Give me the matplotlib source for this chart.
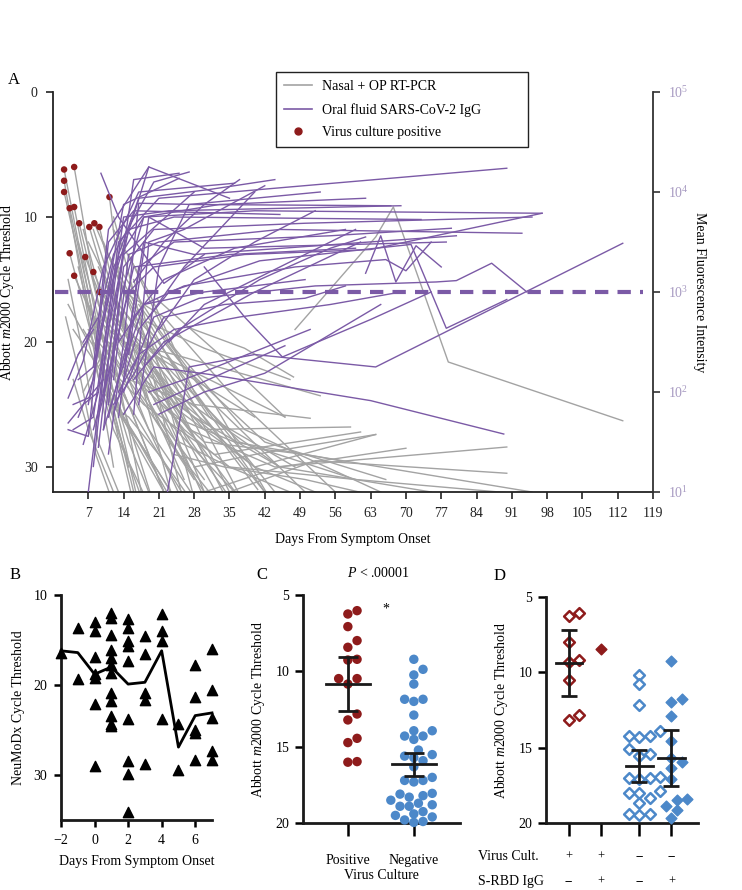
import numpy as np
import matplotlib
matplotlib.use("Agg")
import matplotlib.pyplot as plt
import matplotlib.transforms as mtransforms
from matplotlib.lines import Line2D
from matplotlib.ticker import FixedLocator, NullLocator

plt.rcParams['font.family'] = ['Liberation Serif', 'DejaVu Serif']
plt.rcParams['mathtext.fontset'] = 'custom'
plt.rcParams['mathtext.rm'] = 'Liberation Serif'
plt.rcParams['mathtext.it'] = 'Liberation Serif:italic'
plt.rcParams['font.size'] = 10

# ---------------- Panel A data ----------------
# Nasal + OP RT-PCR (Ct), each participant a series of (day, Ct)
gray_days = [
    [2.2, 6, 10, 16], [4.2, 8, 13, 20], [2.2, 7, 12], [2.2, 5, 9, 15], [3.3, 7, 11, 18],
    [4.2, 9, 14, 22], [5.2, 9, 16, 26], [7.2, 11, 18, 30], [8.2, 13, 20, 35], [9.2, 14, 24, 45],
    [11.2, 14, 20, 30], [3.3, 8, 14, 25], [4.2, 9, 15, 28], [6.4, 10, 17, 32], [8, 12, 20, 40],
    [9.2, 14, 22, 36], [3, 7, 12, 19], [4, 9, 15, 22], [5, 10, 17, 30], [6, 11, 18, 27],
    [7, 13, 21, 46], [8, 14, 24, 53], [9, 15, 28, 51], [10, 17, 30, 59], [11, 18, 32, 61],
    [12, 20, 40, 64], [6, 12, 19, 23], [7, 14, 25], [10, 16, 22, 30], [12, 19, 28, 42],
    [13, 21, 32, 50], [14, 22, 35, 56], [15, 23, 38, 65], [16, 20, 31, 48], [18, 25, 37, 60],
    [20, 27, 44, 90], [22, 30, 50, 95], [25, 35, 60, 97], [28, 40, 64], [30, 45, 70],
    [35, 52, 90], [24, 36, 57], [5, 8, 12, 16], [3, 6, 9, 14], [2.5, 5.5, 8.5, 12],
    [4, 7, 10, 13], [6, 9, 12, 15, 20], [9, 12, 15, 19, 26], [48, 64, 67.5, 78.4, 113],
    [17, 26, 42, 66], [19, 29, 38], [14, 18, 25, 33], [11, 15, 21, 28], [18.7, 30, 47],
    [20.7, 33, 46], [26.6, 38, 47.7], [19, 28, 40.6],
    [10, 18, 30], [12, 20, 33], [8, 15, 27], [7, 13, 19, 29], [9, 16, 25, 38],
    [11, 19, 30, 45], [13, 22, 34, 43], [15, 25, 40, 55], [14, 24, 36], [10, 17, 24],
    [8, 12, 18, 24], [6, 10, 14, 18], [5, 9, 13, 17], [12, 16, 20, 26], [13, 20, 26, 35],
    [20, 26, 35, 50], [18, 28, 45, 75], [24, 34, 50, 65], [16, 21, 28], [22, 32, 43],
]
gray_ct = [
    [6.2, 14, 22, 32], [6.0, 15, 24, 33], [7.1, 18, 30], [8.0, 13, 21, 30], [9.3, 16, 25, 33],
    [9.2, 19, 24, 32], [10.5, 17, 22, 31], [10.8, 16, 21, 29], [10.5, 15, 20, 32], [10.8, 19, 24, 30],
    [8.4, 18, 26, 32], [12.9, 20, 26, 33], [14.7, 19, 23, 31], [13.2, 17, 22, 27], [14.4, 18, 21, 26],
    [16, 20, 26, 32], [17, 20, 27, 33], [19, 22, 27, 32], [21, 18, 24, 31], [24, 20, 23, 30],
    [12, 17, 21, 26], [18, 20, 21, 24.3], [20, 23, 25, 26.1], [15, 21, 27, 26.8], [22, 25, 29, 27.2],
    [19, 24, 30, 27.4], [16, 22, 29, 33], [19, 26, 33], [12, 18, 24, 32], [11, 16, 24, 32],
    [14, 19, 25, 32], [16, 18, 24, 32], [13, 20, 27, 32], [18, 19.5, 26, 30], [20, 23, 28, 31],
    [22, 27, 30, 28.4], [25, 28, 29, 32], [28, 30, 31, 32.3], [30, 29, 27.4], [32, 30, 28.5],
    [32, 29.5, 30.5], [26, 28, 29.5], [14, 19, 26, 33], [15, 21, 28, 33], [18, 23, 29, 33],
    [23, 27, 30, 33], [19, 21, 24, 28, 33], [22, 20, 23, 27, 33], [19, 11.6, 9.2, 21.6, 26.3],
    [17, 22, 28, 31], [21, 26, 33], [21, 24, 29, 33], [25, 26, 29, 33], [18.4, 20.5, 23],
    [16.6, 21, 26], [18.8, 20.5, 22.8], [18.4, 25, 31.8],
    [16, 22, 32.5], [18, 23, 32.5], [20, 25, 33], [17, 22, 27, 33], [14, 20, 26, 33],
    [13, 19, 25, 32.5], [17, 22, 28, 32.5], [19, 25, 30, 32.5], [22, 26, 33], [24, 28, 33],
    [11, 16, 24, 33], [11, 17, 25, 33], [12, 18, 26, 33], [10, 16, 23, 33], [15, 21, 26, 33],
    [24, 27, 30, 32.5], [23, 26, 30, 32], [29, 30, 31, 32.4], [15, 22, 32.5], [20, 25, 32.5],
]
# Virus culture positive (first sample)
culture_days = [2.2, 4.2, 2.2, 2.2, 3.3, 4.2, 5.2, 7.2, 8.2, 9.2, 11.2, 3.3, 4.2, 6.4, 8.0, 9.2]
culture_ct = [6.2, 6.0, 7.1, 8.0, 9.3, 9.2, 10.5, 10.8, 10.5, 10.8, 8.4, 12.9, 14.7, 13.2, 14.4, 16.0]

# Oral fluid SARS-CoV-2 IgG (MFI)
purple_days = [
    [3, 6, 10, 17, 36], [3, 7, 9, 14, 25], [4, 8, 12, 19, 35], [5, 8, 11, 16, 45],
    [6, 9, 13, 21, 90], [7, 10, 14, 23, 69], [8, 11, 15, 24, 73], [9, 12, 16, 25],
    [9.5, 13, 22, 30], [10, 13, 18, 40, 97], [11, 14, 20, 50, 95], [12, 15, 21, 45, 93],
    [13, 17, 24, 55, 79], [14, 18, 28, 80], [15, 19, 30, 78], [16, 19, 26, 42],
    [17, 21, 27, 53], [7, 12, 18, 33, 62], [8, 13, 17, 31, 44], [10, 15, 20, 38, 63, 97],
    [11, 16, 22, 36, 58], [12, 17, 23, 41, 71, 78, 90], [13, 18, 26, 48, 66, 70, 75],
    [14, 20, 29, 52, 76, 80, 87, 94], [22.7, 27, 40, 64, 113], [14, 20, 31, 63, 89.4],
    [30, 38, 45.5, 63, 75], [19, 26, 51], [20, 28, 46], [21, 30, 42, 65], [16, 22, 40, 61],
    [18, 25, 41, 55, 62], [6, 9, 12, 20, 27], [5, 8, 11, 19], [8, 10, 14, 28],
    [16, 22, 30, 37], [19, 26, 33, 40], [21, 28, 40, 52], [23, 30, 45, 60],
    [11, 14, 17, 28, 67], [9, 12, 16, 35, 60], [10, 13, 18, 30, 50], [12, 16, 22, 34, 50, 58],
    [13, 17, 24, 37, 55, 69], [62, 65, 68, 72, 77], [3, 5, 8], [3, 6, 9], [4, 7, 10],
]
purple_mfi = [
    [87, 205, 1780, 10000, 12240], [42, 36, 316, 7500, 13700], [42, 56, 1330, 17800, 8660],
    [56, 133, 3160, 6490, 5960], [30, 100, 3160, 8660, 17280], [10, 178, 5620, 6490, 7290],
    [18, 422, 4220, 5620, 5310], [28, 562, 13300, 15400], [15400, 5620, 1220, 2370],
    [42, 750, 5620, 6490, 6130], [75, 1780, 4220, 4870, 5620], [133, 2370, 3160, 4220, 3870],
    [56, 1780, 3160, 3650, 4340], [178, 3160, 2370, 3650], [237, 5620, 2740, 3160],
    [60, 3160, 4220, 11550], [75, 1780, 7500, 10000], [75, 1780, 5620, 7500, 8660],
    [178, 2370, 8660, 10590, 13300], [100, 1000, 1780, 2370, 2660, 6130],
    [56, 562, 1330, 2740, 4220], [60, 422, 1000, 2050, 2990, 434, 841],
    [316, 750, 1150, 1780, 2110, 1630, 3160], [100, 562, 866, 1150, 1260, 1300, 1940, 1000],
    [10, 178, 237, 178, 3070], [60, 178, 150, 82, 38], [1780, 562, 224, 531, 1000],
    [100, 133, 422], [75, 115, 290], [60, 100, 154, 750], [133, 316, 1000, 3160],
    [178, 422, 1330, 2740, 3550], [316, 562, 2370, 12590, 15850], [133, 178, 4220, 17800],
    [42, 100, 2370, 10000], [1260, 3160, 7500, 13300], [562, 1780, 4220, 10000],
    [422, 1330, 3160, 6490], [316, 750, 1780, 4220], [24, 316, 7720, 7500, 7290],
    [56, 237, 1780, 2370, 2740], [42, 133, 750, 1000, 1330], [75, 150, 562, 750, 866, 1150],
    [100, 237, 422, 562, 750, 1000], [1540, 3650, 1260, 2900, 1780], [133, 237, 422],
    [49, 75, 100], [75, 87, 133],
]
mfi_threshold = 1000
a_xticks = [7, 14, 21, 28, 35, 42, 49, 56, 63, 70, 77, 84, 91, 98, 105, 112, 119]

# ---------------- Panel B data ----------------
b_days = ([-2] + [-1] * 2 + [0] * 7 + [1] * 12 + [2] * 9 + [3] * 5 + [4] * 4 + [5] * 2 + [6] * 5 + [7] * 5)
b_ct = [16.4,
        13.7, 19.3,
        13.0, 14.0, 16.9, 18.8, 19.2, 22.1, 29.0,
        12.0, 12.5, 14.4, 16.1, 17.0, 17.8, 18.7, 20.9, 21.8, 23.4, 24.3, 24.6,
        12.7, 13.7, 15.1, 15.7, 17.3, 23.8, 28.4, 29.9, 34.1,
        14.6, 16.6, 20.9, 21.7, 28.8,
        12.1, 14.0, 15.1, 23.8,
        24.3, 29.4,
        17.8, 21.3, 25.0, 25.3, 28.3,
        16.0, 20.6, 23.7, 27.3, 28.3]
b_mean_days = [-2, -1, 0, 1, 2, 3, 4, 5, 6, 7]
b_mean_ct = [16.2, 16.4, 18.8, 18.0, 19.9, 19.7, 16.2, 26.9, 23.4, 23.1]

# ---------------- Panel C data ----------------
c_groups = ['Positive', 'Negative']
c_pos = [6.25, 6.03, 7.08, 8.0, 8.44, 9.28, 9.23, 10.5, 10.86, 10.5, 12.83, 13.22, 14.43, 14.71, 16.0, 15.96]
c_neg = [9.23, 9.89, 10.26, 10.86, 11.86, 11.86, 12.0, 12.9, 13.93, 14.28, 14.5, 13.93, 14.28,
         15.2, 15.7, 15.5, 15.6, 15.9, 16.3, 17.2, 17.2, 17.0, 17.3, 18.3, 18.5, 18.1, 18.05,
         18.2, 18.9, 18.8, 18.9, 19.6, 19.4, 19.5, 19.9, 19.96, 19.8, 19.25, 18.7]
c_mean = [10.86, 16.15]
c_lo = [9.06, 15.4]
c_hi = [12.6, 16.9]

# ---------------- Panel D data ----------------
d_cult = ['+', '+', '--', '--']
d_igg = ['--', '+', '--', '+']
d_g1 = [6.26, 6.04, 7.98, 9.19, 9.30, 10.52, 13.17, 12.84]
d_g2 = [8.42]
d_g3 = [10.18, 10.77, 12.17, 13.87, 14.27, 14.22, 14.25, 15.1, 15.55, 15.4, 16.96, 17.03,
        17.1, 17.03, 18.03, 18.36, 18.03, 17.9, 18.65, 19.4, 19.4, 19.47]
d_g4 = [9.24, 11.95, 11.8, 12.88, 14.54, 15.93, 15.7, 16.37, 17.07, 18.42, 18.47, 18.84, 19.17, 19.68]
d_mean = [9.4, None, 16.2, 15.7]
d_lo = [7.2, None, 15.15, 13.83]
d_hi = [11.6, None, 17.25, 17.55]

GRAY = '#A3A3A3'
PURPLE = '#7B5AA6'
RED = '#8E1B1B'
BLUE = '#4C88C9'
LAV = '#A89BC2'

W, H = 742, 890
fig = plt.figure(figsize=(W / 100, H / 100), dpi=100)
fig.patch.set_facecolor('white')


def rect(l, r, t, b):
    return [l / W, 1 - b / H, (r - l) / W, (b - t) / H]


def swarm(ax, x0, vals, diam, step_frac=0.5):
    tr = ax.transData
    ppx = tr.transform((x0 + 1, 0))[0] - tr.transform((x0, 0))[0]
    ypix = np.array([tr.transform((x0, v))[1] for v in vals])
    order = np.argsort(ypix)
    placed = []
    offs = np.zeros(len(vals))
    for i in order:
        y = ypix[i]
        best = 0.0
        found = False
        for k in range(0, 60):
            for sgn in ([0] if k == 0 else [1, -1]):
                dx = sgn * k * diam * step_frac
                if all((dx - px) ** 2 + (y - py) ** 2 >= (diam * 0.92) ** 2 for px, py in placed):
                    best = dx
                    found = True
                    break
            if found:
                break
        placed.append((best, y))
        offs[i] = best / ppx
    return x0 + offs


# ================= Panel A =================
axA = fig.add_axes(rect(53, 653, 92, 492))
axA.set_xlim(0, 119)
axA.set_ylim(32, 0)
for d, c in zip(gray_days, gray_ct):
    axA.plot(d, c, color=GRAY, lw=1.0, zorder=2)
axA.scatter(culture_days, culture_ct, s=22, color=RED, edgecolor='none', zorder=3)
axA.set_yticks([0, 10, 20, 30])
axA.set_xticks(a_xticks)
axA.set_xticklabels([str(t) for t in a_xticks])
axA.spines['top'].set_visible(False)
axA.spines['right'].set_visible(False)
for s in ['left', 'bottom']:
    axA.spines[s].set_linewidth(1.3)
    axA.spines[s].set_color('#222222')
axA.tick_params(length=5, width=1.2, labelsize=10, colors='#222222', pad=6)
axA.set_ylabel('Abbott $\\mathit{m}$2000 Cycle Threshold', fontsize=10, labelpad=6)
axA.set_xlabel('Days From Symptom Onset', fontsize=10, labelpad=9)

axA2 = axA.twinx()
axA2.set_yscale('log')
axA2.set_ylim(10, 1e5)
for d, m in zip(purple_days, purple_mfi):
    axA2.plot(d, m, color=PURPLE, lw=1.0, zorder=2)
axA2.plot([0.4, 117], [mfi_threshold, mfi_threshold], color=PURPLE, lw=3.0,
          linestyle=(0, (3.2, 2.2)), zorder=3)
for s in ['top', 'left', 'bottom']:
    axA2.spines[s].set_visible(False)
axA2.spines['right'].set_linewidth(1.3)
axA2.spines['right'].set_color('#333333')
axA2.yaxis.set_major_locator(FixedLocator([10, 100, 1000, 1e4, 1e5]))
axA2.yaxis.set_minor_locator(NullLocator())
axA2.set_yticklabels(['$10^{1}$', '$10^{2}$', '$10^{3}$', '$10^{4}$', '$10^{5}$'])
axA2.tick_params(axis='y', length=5, width=1.2, labelsize=10, labelcolor=LAV, color='#333333', pad=6)
axA2.set_ylabel('Mean Fluorescence Intensity', fontsize=10, rotation=270, labelpad=12)

handles = [Line2D([], [], color=GRAY, lw=1.2),
           Line2D([], [], color=PURPLE, lw=1.2),
           Line2D([], [], color=RED, marker='o', ls='none', markersize=5)]
leg = fig.legend(handles, ['Nasal + OP RT-PCR', 'Oral fluid SARS-CoV-2 IgG', 'Virus culture positive'],
                 loc='upper left', bbox_to_anchor=(276 / W, 1 - 149 / H, 252 / W, 77 / H), mode='expand',
                 frameon=True, fancybox=False,
                 edgecolor='#222222', framealpha=1, fontsize=10, handlelength=2.0, labelspacing=0.68,
                 borderpad=0.6, handletextpad=0.7, borderaxespad=0)
leg.get_frame().set_linewidth(1.0)

fig.text(8 / W, 1 - 80 / H, 'A', fontsize=12, va='center', ha='left')

# ================= Panel B =================
axB = fig.add_axes(rect(61, 212, 595, 820))
axB.set_xlim(-2, 7)
axB.set_ylim(35, 10)
axB.scatter(b_days, b_ct, marker='^', s=55, color='black', zorder=3, clip_on=False)
axB.plot(b_mean_days, b_mean_ct, color='black', lw=2.0, zorder=2, clip_on=False)
axB.set_yticks([10, 20, 30])
axB.set_xticks([-2, 0, 2, 4, 6])
axB.set_xticklabels(['\u22122', '0', '2', '4', '6'])
for s in ['top', 'right']:
    axB.spines[s].set_visible(False)
for s in ['left', 'bottom']:
    axB.spines[s].set_linewidth(2.0)
    axB.spines[s].set_color('#1a1a1a')
axB.tick_params(length=5, width=1.8, labelsize=10, pad=5)
axB.set_ylabel('NeuMoDx Cycle Threshold', fontsize=10, labelpad=6)
axB.set_xlabel('Days From Symptom Onset', fontsize=10, labelpad=6)
fig.text(15 / W, 1 - 575 / H, 'B', fontsize=12, va='center', ha='center')

# ================= Panel C =================
axC = fig.add_axes(rect(303, 460, 595, 823))
axC.set_xlim(-0.68, 1.70)
axC.set_ylim(20, 5)
dC = 9.2
xp = swarm(axC, 0, c_pos, dC)
xn = swarm(axC, 1, c_neg, dC)
axC.scatter(xp, c_pos, s=46, color=RED, edgecolor='none', zorder=3, clip_on=False)
axC.scatter(xn, c_neg, s=46, color=BLUE, edgecolor='none', zorder=3, clip_on=False)
for i in range(2):
    axC.errorbar([i], [c_mean[i]], yerr=[[c_mean[i] - c_lo[i]], [c_hi[i] - c_mean[i]]],
                 color='#1a1a1a', lw=2.0, capsize=7, capthick=2.0, zorder=4)
    axC.plot([i - 0.33, i + 0.33], [c_mean[i], c_mean[i]], color='#1a1a1a', lw=2.0, zorder=4)
axC.set_yticks([5, 10, 15, 20])
axC.set_xticks([0, 1])
axC.set_xticklabels(c_groups)
for s in ['top', 'right']:
    axC.spines[s].set_visible(False)
for s in ['left', 'bottom']:
    axC.spines[s].set_linewidth(2.0)
    axC.spines[s].set_color('#1a1a1a')
axC.tick_params(axis='y', length=6, width=1.8, labelsize=10, pad=4)
axC.tick_params(axis='x', length=9, width=1.8, labelsize=10, pad=13)
axC.set_ylabel('Abbott $\\mathit{m}$2000 Cycle Threshold', fontsize=10, labelpad=6)
axC.set_xlabel('Virus Culture', fontsize=10, labelpad=2)
fig.text(378 / W, 1 - 573 / H, '$P$ < .00001', fontsize=10, ha='center', va='center')
fig.text(386 / W, 1 - 609 / H, '*', fontsize=10, ha='center', va='center')
fig.text(262 / W, 1 - 575 / H, 'C', fontsize=12, va='center', ha='center')

# ================= Panel D =================
axD = fig.add_axes(rect(546, 698, 597, 823))
axD.set_xlim(0.28, 5.03)
axD.set_ylim(20, 5)
posD = [1, 2, 3.2, 4.2]
dD = 9.5
groupsD = [d_g1, d_g2, d_g3, d_g4]
colsD = [RED, RED, BLUE, BLUE]
filled = [False, True, False, True]
for p, vals, col, f in zip(posD, groupsD, colsD, filled):
    xs = swarm(axD, p, vals, dD, step_frac=0.55)
    if f:
        axD.scatter(xs, vals, marker='D', s=30, color=col, edgecolor=col, zorder=3, clip_on=False)
    else:
        axD.scatter(xs, vals, marker='D', s=30, facecolor='white', edgecolor=col, linewidth=1.8,
                    zorder=3, clip_on=False)
for p, m, lo, hi in zip(posD, d_mean, d_lo, d_hi):
    if m is None:
        continue
    axD.errorbar([p], [m], yerr=[[m - lo], [hi - m]], color='#1a1a1a', lw=2.0, capsize=5.5,
                 capthick=2.0, zorder=4)
    axD.plot([p - 0.42, p + 0.42], [m, m], color='#1a1a1a', lw=2.0, zorder=4)
axD.set_yticks([5, 10, 15, 20])
axD.set_xticks(posD)
axD.set_xticklabels([])
for s in ['top', 'right']:
    axD.spines[s].set_visible(False)
for s in ['left', 'bottom']:
    axD.spines[s].set_linewidth(2.0)
    axD.spines[s].set_color('#1a1a1a')
axD.tick_params(axis='y', length=6, width=1.8, labelsize=10, pad=4)
axD.tick_params(axis='x', length=9, width=1.8)
axD.set_ylabel('Abbott $\\mathit{m}$2000 Cycle Threshold', fontsize=10, labelpad=6)
fig.text(500 / W, 1 - 576 / H, 'D', fontsize=12, va='center', ha='center')

trD = mtransforms.blended_transform_factory(axD.transData, fig.transFigure)
fig.text(478 / W, 1 - 857 / H, 'Virus Cult.', fontsize=10, ha='left', va='center')
fig.text(478 / W, 1 - 882 / H, 'S-RBD IgG', fontsize=10, ha='left', va='center')
for p, a, b in zip(posD, d_cult, d_igg):
    axD.text(p, 1 - 857 / H, a, transform=trD, fontsize=9, ha='center', va='center', clip_on=False)
    axD.text(p, 1 - 882 / H, b, transform=trD, fontsize=9, ha='center', va='center', clip_on=False)

fig.savefig('out.png', dpi=100, facecolor='white')
